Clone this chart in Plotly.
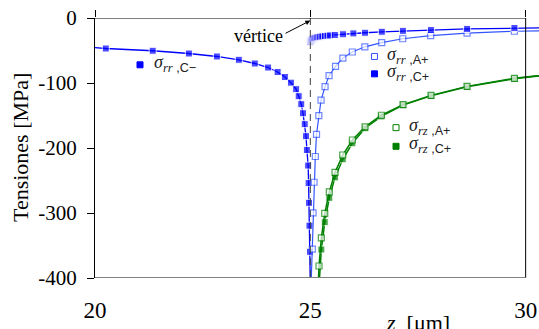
import plotly.graph_objects as go

# ---------------- data ----------------
z_rr_cm = [20.0, 20.25, 21.34, 22.18, 22.83, 23.34, 23.71, 24.02, 24.24, 24.41, 24.55, 24.67,
           24.73, 24.79, 24.83, 24.87, 24.90, 24.92, 24.95, 24.96, 24.97, 24.98, 24.993, 25.005]
s_rr_cm = [-45.5, -46.9, -50.4, -54.6, -59.2, -64.3, -70.0, -76.2, -83.1, -90.8, -99.5, -109.5,
           -120.3, -132.6, -146.5, -163.3, -181.8, -203.1, -227.0, -254.0, -284.3, -319.5, -359.6, -430.0]

z_rr_ap = [25.008, 25.046, 25.063, 25.086, 25.116, 25.144, 25.197, 25.249, 25.342, 25.435, 25.585,
           25.755, 25.975, 26.266, 26.658, 27.146, 27.796, 28.639, 29.738, 31.0]
s_rr_ap = [-430.0, -355.7, -299.8, -252.7, -213.1, -178.9, -150.2, -126.4, -105.6, -88.7, -74.3,
           -61.7, -52.3, -44.3, -37.8, -31.9, -27.0, -23.4, -20.4, -19.0]

z_rr_cp = [25.0, 25.01, 25.02, 25.035, 25.05, 25.07, 25.095, 25.12, 25.15, 25.19, 25.23, 25.28,
           25.34, 25.40, 25.46, 25.57, 25.76, 26.0, 26.27, 26.66, 27.15, 27.8, 28.64, 29.74, 31.0]
s_rr_cp = [-36.5, -35.0, -34.0, -33.2, -32.5, -31.7, -31.0, -30.4, -29.8, -29.2, -28.7, -28.2,
           -27.7, -27.2, -26.8, -26.1, -25.0, -23.7, -22.7, -21.2, -19.8, -18.5, -16.8, -15.4, -14.5]

z_rz_ap = [25.17, 25.202, 25.256, 25.335, 25.441, 25.574, 25.753, 25.976, 26.271, 26.650, 27.153,
           27.803, 28.639, 29.740, 31.0]
s_rz_ap = [-430.0, -381.5, -338.3, -300.7, -267.4, -237.5, -210.8, -187.7, -167.6, -149.6, -133.2,
           -119.0, -105.2, -92.8, -83.0]

z_rz_cp = [25.13, 25.202, 25.256, 25.335, 25.441, 25.574, 25.753, 25.976, 26.271, 26.650, 27.153,
           27.803, 28.639, 29.740, 31.0]
s_rz_cp = [-430.0, -412.0, -356.2, -314.1, -276.6, -245.2, -217.4, -192.7, -169.6, -151.4, -134.0,
           -119.8, -105.9, -93.6, -83.5]

x_ticks = [20, 25, 30]
y_ticks = [0, -100, -200, -300, -400]

BLUE = "#0000FF"
BLUE_L = "#3355FF"
GREEN = "#008000"
SERIF = "Liberation Serif, Times New Roman, serif"


def sizes(n, first_hidden=False, last_hidden=False, s=6):
    arr = [s] * n
    if first_hidden:
        arr[0] = 0
    if last_hidden:
        arr[-1] = 0
    return arr


fig = go.Figure()

fig.add_trace(go.Scatter(x=z_rr_cm, y=s_rr_cm, mode="lines+markers",
                         line=dict(color=BLUE, width=1.3),
                         marker=dict(symbol="square", size=sizes(len(z_rr_cm), True, True, 7), color=BLUE)))
fig.add_trace(go.Scatter(x=z_rr_ap, y=s_rr_ap, mode="lines+markers",
                         line=dict(color=BLUE_L, width=1.2),
                         marker=dict(symbol="square", size=sizes(len(z_rr_ap), True, True, 6),
                                     color="white", line=dict(color=BLUE_L, width=1.2))))
fig.add_trace(go.Scatter(x=z_rr_cp, y=s_rr_cp, mode="lines+markers",
                         line=dict(color=BLUE, width=1.3),
                         marker=dict(symbol="square", size=sizes(len(z_rr_cp), False, True, 7), color=BLUE)))
fig.add_trace(go.Scatter(x=z_rz_cp, y=s_rz_cp, mode="lines+markers",
                         line=dict(color=GREEN, width=1.5),
                         marker=dict(symbol="square", size=sizes(len(z_rz_cp), True, True, 7), color=GREEN)))
fig.add_trace(go.Scatter(x=z_rz_ap, y=s_rz_ap, mode="lines+markers",
                         line=dict(color=GREEN, width=1.5),
                         marker=dict(symbol="square", size=sizes(len(z_rz_ap), True, True, 6),
                                     color="white", line=dict(color=GREEN, width=1.2))))
# top axis holder (ticks only)
fig.add_trace(go.Scatter(x=[20], y=[0], xaxis="x2", mode="markers",
                         marker=dict(size=1, opacity=0), hoverinfo="skip"))

shapes = [
    dict(type="line", xref="x", yref="y", x0=25, x1=25, y0=0, y1=-400,
         line=dict(color="#404040", width=1, dash="7px,5px"), layer="above"),
    dict(type="line", xref="x", yref="y", x0=20, x1=30, y0=0, y1=0,
         line=dict(color="black", width=1)),
    dict(type="line", xref="x", yref="y", x0=30, x1=30, y0=0, y1=-400,
         line=dict(color="black", width=1)),
    dict(type="line", xref="x", yref="y", x0=20, x1=30, y0=-400, y1=-400,
         line=dict(color="#808080", width=2)),
]

leg = [
    (21.045, -72.0, BLUE, True),
    (26.49, -59.2, BLUE_L, False),
    (26.49, -85.9, BLUE, True),
    (26.99, -168.7, GREEN, False),
    (26.99, -197.4, GREEN, True),
]
for lx, ly, col, filled in leg:
    shapes.append(dict(type="rect", xref="x", yref="y", xsizemode="pixel", ysizemode="pixel",
                       xanchor=lx, yanchor=ly, x0=-3, x1=3, y0=-3, y1=3,
                       fillcolor=col if filled else "white",
                       line=dict(color=col, width=1)))


def label(sub1, sub2):
    return ('<i>σ</i><sub><i>' + sub1 + '</i><span style="font-family:Liberation Sans"> ,' +
            sub2 + '</span></sub>')


def leg_ann(x, y, t):
    return dict(x=x, y=y, xref="x", yref="y", text=t, showarrow=False,
                xanchor="left", yanchor="middle", font=dict(family=SERIF, size=18, color="#222"))


annotations = [
    leg_ann(21.32, -70, label("rr", "C−")),
    leg_ann(26.735, -57, label("rr", "A+")),
    leg_ann(26.735, -84, label("rr", "C+")),
    leg_ann(27.24, -166.5, label("rz", "A+")),
    leg_ann(27.24, -195, label("rz", "C+")),
    dict(x=23.8, y=-28, xref="x", yref="y", text="vértice", showarrow=False,
         xanchor="center", yanchor="middle",
         font=dict(family=SERIF, size=18, color="black")),
    dict(x=25.0, y=-4.0, ax=24.39, ay=-24.7, xref="x", yref="y", axref="x", ayref="y",
         text="", showarrow=True, arrowhead=2, arrowsize=1, arrowwidth=1, arrowcolor="black"),
    dict(x=-75 / 444, y=0.5, xref="paper", yref="paper", text="Tensiones [MPa]",
         textangle=-90, showarrow=False, xanchor="center", yanchor="middle",
         font=dict(family=SERIF, size=22, color="black")),
    dict(x=(418 - 95) / 444, y=-44 / 260, xref="paper", yref="paper",
         text="<i>z</i>  [μm]", showarrow=False, xanchor="center", yanchor="middle",
         font=dict(family=SERIF, size=22, color="black")),
]

fig.update_layout(
    width=539, height=329,
    margin=dict(l=95, r=0, t=18, b=51, autoexpand=False),
    paper_bgcolor="white", plot_bgcolor="white",
    showlegend=False,
    shapes=shapes,
    annotations=annotations,
    xaxis=dict(range=[20, 30.31], tickvals=x_ticks, ticktext=[str(v) for v in x_ticks],
               showgrid=False, zeroline=False, showline=False, ticks="", automargin=False,
               ticklabelstandoff=16,
               tickfont=dict(family=SERIF, size=23, color="black")),
    xaxis2=dict(range=[20, 30.31], overlaying="x", side="top", anchor="y", automargin=False,
                tickvals=x_ticks, showticklabels=False, ticks="outside", ticklen=7,
                tickcolor="black", tickwidth=1, showgrid=False, zeroline=False, showline=False),
    yaxis=dict(range=[-400, 0], tickvals=y_ticks, ticktext=[str(v) for v in y_ticks],
               showgrid=False, zeroline=False, showline=True, linecolor="black", linewidth=1,
               ticks="outside", ticklen=7, tickcolor="black", tickwidth=1, automargin=False,
               ticklabelstandoff=6,
               tickfont=dict(family=SERIF, size=21, color="black")),
)

fig.write_html("out.html", config={"displayModeBar": False},
               post_script="document.body.style.margin='0px';document.body.style.overflow='hidden';")
